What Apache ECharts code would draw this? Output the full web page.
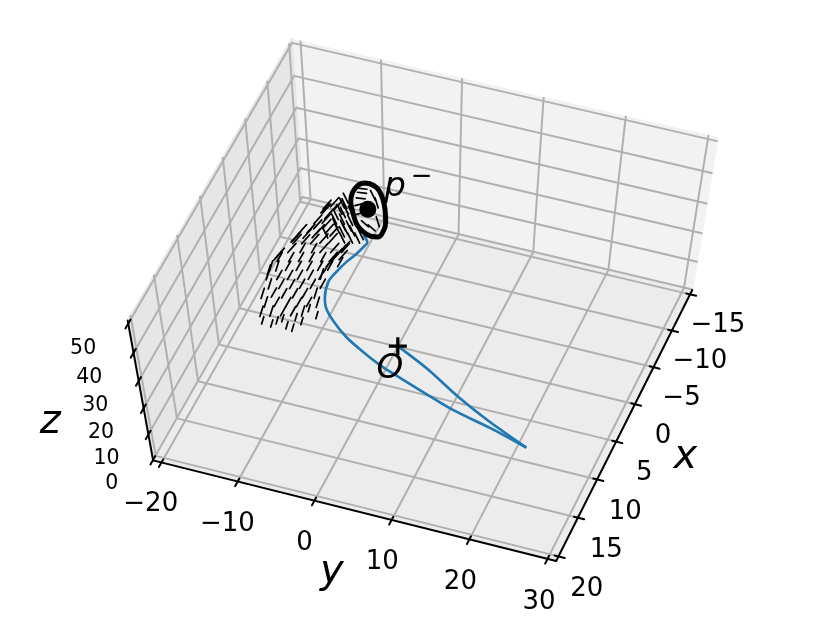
<!DOCTYPE html>
<html><head><meta charset="utf-8"><style>html,body{margin:0;padding:0;background:#fff}#c{width:830px;height:629px}</style>
<script src="https://cdn.jsdelivr.net/npm/echarts@6/dist/echarts.min.js"></script></head><body><div id="c"></div>
<script>
// Tick labels and axis limits
const xTicks=[-15,-10,-5,0,5,10,15,20];
const yTicks=[-20,-10,0,10,20,30];
const zTicks=[0,10,20,30,40,50];
const xLim=[-15.6,20.6], yLim=[-21.1,31.1], zLim=[-0.2,51];
// Orbit (x,y,z): leaving O to the tip, then back towards p-
const orbitOut=[[0,0,0],[2.8,5.3,3],[6.8,11.4,8],[10.5,16.9,14],[14.4,23.7,20]];
const orbitBack=[[14.4,23.7,20],[13.8,18.9,22],[14.0,14.3,26],[13.8,10.7,29],[13.4,7.5,31],[12.9,4.9,32],[12.1,2.2,33],[10.9,-0.5,33],[9.5,-2.8,33],[7.9,-4.6,32],[6.4,-5.6,31],[3.8,-6.6,29],[2.0,-6.5,28],[0.6,-6.0,28],[-0.9,-5.6,27],[-2.0,-5.2,27],[-2.6,-5.1,27],[-3.3,-6.0,27]];
// Closed ring round p-, in the plane z = 27
const ringZ=27;
const ringXY=[[-9.5,-9.3],[-9.6,-8.5],[-9.3,-7.4],[-8.6,-6.5],[-7.6,-5.6],[-6.4,-4.8],[-5.5,-4.3],[-4.5,-4.0],[-3.5,-4.2],[-3.4,-5.1],[-3.7,-6.2],[-4.4,-7.4],[-5.6,-8.5],[-6.9,-9.5],[-8.1,-9.9],[-9.1,-9.7],[-9.5,-9.3]];
const pMinus=[-6.5,-7.1,27];
const origin=[0,0,0];
// Short field strokes: [x, y, direction index], and the direction vectors (dx, dy)
const hairDirs=[[-1.21,0],[-1.28,-0.29],[-0.89,-0.21],[-1.30,0.34],[1.05,1.19],[-0.13,1.08],[-0.46,0.78],[1.10,0.97],[0.52,1.17]];
const hairPoints=[[9.4,-11.9,2],[9.5,-10.7,2],[9.0,-10.3,2],[9.3,-8.9,2],[9.4,-8.1,2],[8.4,-7.5,2],[7.3,-6.2,2],[6.7,-7.5,2],[8.6,-9.8,2],[8.1,-8.4,2],[8.4,-12.6,1],[8.1,-11.5,1],[7.8,-10.2,0],[7.5,-9.1,0],[7.2,-8.0,1],[7.2,-12.7,1],[6.9,-11.5,0],[6.6,-10.2,0],[6.3,-9.0,0],[6.0,-7.9,0],[5.8,-6.9,1],[6.3,-13.6,1],[5.9,-12.4,0],[5.7,-11.2,0],[5.4,-10.0,0],[5.1,-8.9,0],[4.8,-7.7,1],[5.0,-13.4,1],[4.7,-12.1,0],[4.4,-10.9,0],[4.1,-9.8,0],[3.8,-8.6,0],[3.5,-7.5,0],[4.0,-14.2,1],[3.7,-12.9,0],[3.4,-11.7,0],[3.1,-10.6,0],[2.8,-9.4,0],[2.5,-8.2,0],[2.7,-13.7,1],[2.4,-12.5,0],[2.1,-11.3,0],[1.8,-10.1,0],[1.5,-8.9,0],[1.2,-7.8,0],[0.5,-6.9,0],[1.6,-14.0,0],[1.3,-12.7,0],
[1.0,-11.6,0],[0.7,-10.4,0],[0.4,-9.1,0],[0.1,-8.0,3],[-0.4,-7.0,3],[0.2,-13.2,3],[-0.1,-12.0,0],[-0.4,-10.7,0],[-0.7,-9.6,3],[-1.0,-8.4,3],[-1.3,-7.2,3],[-1.0,-13.2,3],[-1.2,-12.2,3],[-1.5,-11.2,3],[-1.8,-10.2,3],[-2.1,-9.2,3],[-2.4,-8.2,4],[-2.6,-7.3,4],[-2.3,-13.2,3],[-2.6,-12.3,3],[-2.8,-11.2,3],[-3.1,-10.2,3],[-3.4,-9.4,4],[-3.5,-8.4,4],[-3.5,-7.5,4],[-3.9,-12.1,3],[-4.2,-11.2,3],[-4.4,-10.3,4],[-4.6,-9.4,4],[-4.7,-8.4,4],[-5.4,-11.8,3],[-5.5,-11.0,3],[-5.7,-10.3,4],[-5.9,-9.6,4],[-5.8,-8.9,4],[-6.4,-11.3,3],[-6.5,-10.4,4],[-7.2,-10.3,4],[-1.9,-12.4,3],[-2.2,-11.4,3],[-2.5,-10.4,4],[-2.9,-9.5,3],[-3.1,-8.6,4],[-3.3,-11.8,3],[-3.6,-10.8,3],[-3.9,-9.9,4],[-3.9,-8.9,4],[-4.0,-8.2,4],
[-4.8,-11.2,3],[-5.0,-10.4,4],[-5.4,-9.7,4],[-6.2,-10.7,3],[-6.5,-10.1,4],[-2.8,-6.5,4],[-3.3,-6.3,4],[3.4,-14.4,1],[2.9,-14.4,1],[1.5,-14.3,3],[1.1,-14.2,3],[-1.1,-13.5,3],[-1.3,-13.4,3],[-5.4,-12.0,3],[-5.9,-12.0,3],[2.4,-8.2,1],[1.6,-8.1,0],[0.8,-8.0,3],[0.2,-7.8,3],[-0.4,-7.7,3],[-1.0,-7.5,3],[-1.5,-7.3,3],[-8.8,-9.0,5],[-8.3,-8.8,5],[-7.6,-8.6,5],[-8.3,-7.4,4],[-7.5,-6.5,7],[-5.3,-5.2,7],[-4.4,-5.5,8],[-4.7,-6.5,8],[-5.8,-7.7,6],[-6.8,-8.4,6]];
// Camera: box corners (x,y,z) and where the picture shows them
const viewCal=[[20.6,-21.1,-0.2,153,461],[20.6,31.1,-0.2,556,561],[-15.6,31.1,-0.2,692,290],[-15.6,-21.1,-0.2,303,197],[-15.6,-21.1,51,291,40],[-15.6,31.1,51,718,138],[20.6,-21.1,51,128,320]];
function solve(A,b){const n=b.length;for(let i=0;i<n;i++){let m=i;for(let r=i+1;r<n;r++)if(Math.abs(A[r][i])>Math.abs(A[m][i]))m=r;[A[i],A[m]]=[A[m],A[i]];[b[i],b[m]]=[b[m],b[i]];for(let r=i+1;r<n;r++){const f=A[r][i]/A[i][i];for(let c=i;c<n;c++)A[r][c]-=f*A[i][c];b[r]-=f*b[i];}}const x=Array(n).fill(0);for(let i=n-1;i>=0;i--){let s=b[i];for(let c=i+1;c<n;c++)s-=A[i][c]*x[c];x[i]=s/A[i][i];}return x;}
const cam=(()=>{const R=[],B=[];viewCal.forEach(([x,y,z,u,v])=>{R.push([x,y,z,1,0,0,0,0,-u*x,-u*y,-u*z]);B.push(u);R.push([0,0,0,0,x,y,z,1,-v*x,-v*y,-v*z]);B.push(v);});const s=[.1,.1,.1,1,.1,.1,.1,1,.001,.001,.001];const R2=R.map(r=>r.map((a,i)=>a*s[i]));const N=Array.from({length:11},()=>Array(11).fill(0)),b=Array(11).fill(0);R2.forEach((r,k)=>{for(let i=0;i<11;i++){b[i]+=r[i]*B[k];for(let j=0;j<11;j++)N[i][j]+=r[i]*r[j];}});return solve(N,b).map((a,i)=>a*s[i]);})();
const project=(x,y,z)=>{const w=cam[8]*x+cam[9]*y+cam[10]*z+1;return[(cam[0]*x+cam[1]*y+cam[2]*z+cam[3])/w,(cam[4]*x+cam[5]*y+cam[6]*z+cam[7])/w];};
const lab=(x,y,z,t,s,it)=>({p:project(x,y,z),t,s,it});
const [x0,x1]=xLim,[y0,y1]=yLim,[z0,z1]=zLim;
const panes=[[[x0,y0,z0],[x0,y1,z0],[x0,y1,z1],[x0,y0,z1],'#f2f2f2'],[[x0,y0,z0],[x1,y0,z0],[x1,y0,z1],[x0,y0,z1],'#e6e6e6'],[[x0,y0,z0],[x0,y1,z0],[x1,y1,z0],[x1,y0,z0],'#ececec']];
const seg=(a,b)=>({coords:[project(...a),project(...b)]});
const grid=[];
xTicks.forEach(t=>{grid.push(seg([t,y1,z0],[t,y0,z0]),seg([t,y0,z0],[t,y0,z1]));});
yTicks.forEach(t=>{grid.push(seg([x1,t,z0],[x0,t,z0]),seg([x0,t,z0],[x0,t,z1]));});
zTicks.forEach(t=>{grid.push(seg([x1,y0,t],[x0,y0,t]),seg([x0,y0,t],[x0,y1,t]));});
const axes=[seg([x0,y1,z0],[x1,y1,z0]),seg([x1,y0,z0],[x1,y1,z0]),seg([x1,y0,z0],[x1,y0,z1])];
xTicks.forEach(t=>axes.push(seg([t,y1-.5,z0],[t,y1+.8,z0])));
yTicks.forEach(t=>axes.push(seg([x1-.4,t,z0],[x1+.6,t,z0])));
zTicks.forEach(t=>axes.push(seg([x1-.5,y0,t],[x1+.6,y0,t])));
const minus=s=>String(s).replace('-','\u2212');
const texts=[];
xTicks.forEach(t=>texts.push(lab(t+2.97,y1+5.07,z0,minus(t),26)));
yTicks.forEach(t=>texts.push(lab(x1+5.15,t+1.5,z0,minus(t),26)));
zTicks.forEach(t=>texts.push(lab(x1+3.9,y0-3.2,t,minus(t),20.5)));
texts.push(lab(5,40,0,'x',40,1),lab(28.3,6.4,0,'y',40,1),lab(26.25,-29.33,25,'z',40,1));
texts.push(lab(3.06,0.55,0,'O',34,1),lab(-9.86,-5.4,27,'p',34,1),lab(-11.8,-3.0,27,'\u2212',26));
const hairs=hairPoints.map(h=>{const d=hairDirs[h[2]];return seg([h[0]-d[0]/2,h[1]-d[1]/2,ringZ],[h[0]+d[0]/2,h[1]+d[1]/2,ringZ]);});
const lineS=(data,color,width,z)=>({type:'lines',coordinateSystem:'cartesian2d',polyline:false,silent:true,z,data,lineStyle:{color,width,opacity:1,cap:'round'},effect:{show:false}});
const blueS=d=>({type:'line',data:d.map(p=>project(...p)),smooth:0.3,smoothMonotone:'none',symbol:'none',silent:true,z:4,lineStyle:{color:'#1f77b4',width:2.6}});
const chart=echarts.init(document.getElementById('c'),null,{renderer:'canvas'});
chart.setOption({animation:false,
 grid:{left:0,right:0,top:0,bottom:0,containLabel:false},
 xAxis:{type:'value',min:0,max:830,show:false},yAxis:{type:'value',min:0,max:629,inverse:true,show:false},
 series:[
 {type:'custom',coordinateSystem:'cartesian2d',silent:true,z:1,data:panes.map((_,i)=>[i,0]),encode:{x:0,y:1},clip:false,
  renderItem:(p,api)=>{const P=panes[p.dataIndex];return{type:'polygon',shape:{points:P.slice(0,4).map(a=>api.coord(project(...a)))},style:{fill:P[4],stroke:P[4],lineWidth:2}};}},
 lineS(grid,'#b0b0b0',2,2),
 lineS(axes,'#000',2,3),
 blueS(orbitOut),blueS(orbitBack),
 lineS(hairs,'#000',1.7,5),
 {type:'line',data:ringXY.map(p=>project(p[0],p[1],ringZ)),smooth:0.4,symbol:'none',silent:true,z:6,lineStyle:{color:'#000',width:5}},
 {type:'scatter',data:[project(...pMinus)],symbol:'circle',symbolSize:17,silent:true,z:7,itemStyle:{color:'#000',opacity:1}},
 {type:'scatter',data:[project(...origin)],symbol:'path://M0 41H100V59H0Z M41 0H59V100H41Z',symbolSize:18,silent:true,z:7,itemStyle:{color:'#000',opacity:1}},
 {type:'custom',coordinateSystem:'cartesian2d',silent:true,z:8,clip:false,data:texts.map(t=>t.p),encode:{x:0,y:1},
  renderItem:(p,api)=>{const T=texts[p.dataIndex],c=api.coord(T.p);return{type:'text',x:c[0],y:c[1],style:{text:T.t,fontFamily:'DejaVu Sans',fontSize:T.s,fontStyle:T.it?'italic':'normal',fill:'#000',align:'center',verticalAlign:'middle'}};}}
 ]});
</script></body></html>
